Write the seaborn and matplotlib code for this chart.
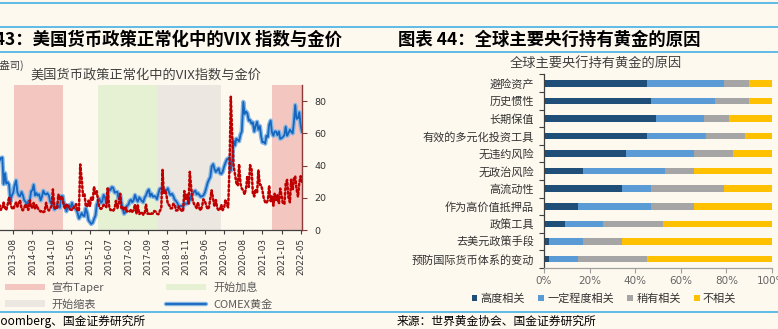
import numpy as np
import pandas as pd
import matplotlib
matplotlib.use("Agg")
import matplotlib.pyplot as plt
import matplotlib.dates as mdates
import matplotlib.patheffects as pe
from matplotlib.patches import Patch
from matplotlib.lines import Line2D
import seaborn as sns

sns.set_theme(style="white")
plt.rcParams['font.family'] = ['Noto Sans CJK SC', 'DejaVu Sans']
plt.rcParams['axes.unicode_minus'] = False

# ---------------- data: VIX and COMEX gold (semi-monthly) ----------------
sample_dates = pd.date_range('2013-01-01', '2022-05-15', freq='SMS')

gold_price = [
    1675, 1685, 1665, 1610, 1575, 1595, 1600, 1380, 1470, 1385, 1395, 1375,
    1235, 1285, 1310, 1370, 1410, 1315, 1285, 1280, 1315, 1290, 1245, 1235,   # 2013
    1205, 1240, 1245, 1320, 1330, 1375, 1285, 1305, 1285, 1295, 1245, 1275,
    1325, 1300, 1295, 1305, 1285, 1235, 1215, 1240, 1170, 1185, 1215, 1195,   # 2014
    1185, 1280, 1280, 1210, 1210, 1155, 1200, 1205, 1180, 1225, 1190, 1180,
    1170, 1145, 1095, 1115, 1140, 1120, 1115, 1180, 1140, 1080, 1065, 1050,   # 2015
    1060, 1090, 1120, 1210, 1235, 1260, 1225, 1235, 1290, 1275, 1215, 1295,
    1340, 1330, 1355, 1350, 1310, 1315, 1315, 1255, 1290, 1225, 1170, 1135,   # 2016
    1150, 1200, 1210, 1240, 1250, 1230, 1250, 1290, 1255, 1235, 1270, 1255,
    1240, 1230, 1270, 1285, 1320, 1335, 1280, 1300, 1275, 1280, 1275, 1255,   # 2017
    1305, 1340, 1345, 1355, 1320, 1315, 1330, 1345, 1305, 1290, 1300, 1280,
    1250, 1240, 1220, 1185, 1200, 1200, 1190, 1225, 1215, 1220, 1225, 1245,   # 2018
    1285, 1295, 1320, 1325, 1295, 1305, 1290, 1275, 1280, 1285, 1310, 1345,
    1390, 1415, 1440, 1525, 1545, 1505, 1480, 1495, 1510, 1470, 1465, 1480,   # 2019
    1525, 1555, 1585, 1590, 1600, 1490, 1595, 1740, 1700, 1755, 1745, 1735,
    1790, 1815, 2060, 1960, 1980, 1965, 1905, 1910, 1880, 1890, 1815, 1860,   # 2020
    1895, 1830, 1860, 1775, 1725, 1730, 1715, 1780, 1770, 1870, 1905, 1810,
    1780, 1815, 1815, 1785, 1815, 1755, 1760, 1770, 1785, 1855, 1780, 1800,   # 2021
    1830, 1815, 1800, 1900, 2035, 1920, 1925, 1975, 1865, 1810,               # 2022
]

vix_index = [
    14.0, 13.6, 12.9, 14.1, 15.4, 12.5, 13.6, 17.0, 13.7, 12.4, 16.3, 20.5,
    16.0, 13.8, 12.9, 15.1, 17.0, 14.5, 16.6, 18.5, 13.1, 12.2, 13.7, 16.0,   # 2013
    13.8, 12.5, 18.4, 14.0, 14.0, 16.8, 13.1, 15.6, 13.4, 12.4, 11.4, 12.0,
    11.1, 11.5, 16.9, 13.2, 12.1, 13.3, 15.0, 25.2, 14.0, 13.3, 13.3, 22.0,   # 2014
    19.2, 20.9, 18.7, 14.8, 13.3, 16.0, 15.1, 13.0, 12.7, 12.4, 13.8, 14.8,
    16.1, 12.1, 12.1, 40.7, 31.4, 21.1, 22.6, 15.1, 14.6, 18.2, 14.7, 20.7,   # 2015
    18.2, 27.0, 22.5, 24.1, 17.7, 14.0, 13.1, 13.6, 15.7, 15.0, 14.2, 25.8,
    14.8, 12.4, 12.4, 11.8, 13.5, 18.1, 13.5, 16.2, 22.5, 13.4, 14.1, 12.2,   # 2016
    14.0, 11.5, 12.0, 11.5, 12.5, 11.3, 12.4, 15.9, 10.1, 15.6, 9.9, 10.4,
    11.2, 9.5, 10.3, 16.0, 10.1, 10.2, 9.5, 10.3, 10.2, 11.8, 11.4, 10.1,     # 2017
    9.8, 11.7, 13.5, 37.3, 22.5, 24.9, 21.1, 16.0, 15.5, 13.4, 13.5, 16.3,
    15.6, 12.1, 12.2, 14.6, 12.9, 12.0, 11.6, 24.2, 19.3, 21.9, 16.4, 36.1,   # 2018
    25.4, 18.6, 16.1, 14.9, 13.6, 17.2, 13.4, 12.1, 14.8, 19.1, 17.9, 15.3,
    12.9, 13.9, 20.0, 24.6, 19.0, 14.6, 18.6, 13.7, 12.3, 12.5, 15.6, 12.3,   # 2019
    13.8, 18.8, 15.5, 14.0, 40.1, 82.7, 57.1, 40.1, 34.2, 29.3, 27.6, 40.8,
    28.6, 25.7, 24.5, 22.1, 26.1, 33.6, 26.7, 40.3, 37.6, 22.7, 20.8, 25.2,   # 2020
    22.8, 37.2, 28.0, 27.9, 24.7, 20.0, 17.3, 16.6, 18.6, 27.6, 17.9, 20.7,
    15.1, 22.5, 18.0, 21.6, 16.4, 25.7, 21.2, 16.3, 16.3, 28.6, 31.1, 20.6,   # 2021
    17.2, 31.2, 24.7, 32.0, 33.3, 25.7, 20.6, 29.2, 33.4, 28.9,               # 2022
]

# policy phases shaded behind the lines
phase_labels = ['宣布Taper', '开始加息', '开始缩表', '宣布Taper']
phase_start = ['2013-08-09', '2016-03-03', '2017-12-19', '2021-06-18']
phase_end = ['2015-02-01', '2017-12-19', '2019-11-24', '2022-05-15']
phase_colors = ['#F3C6C0', '#E6F0D3', '#ECE7E0', '#F3C6C0']

# ---------------- data: reasons central banks hold gold ----------------
reasons = ['避险资产', '历史惯性', '长期保值', '有效的多元化投资工具', '无违约风险',
           '无政治风险', '高流动性', '作为高价值抵押品', '政策工具', '去美元政策手段',
           '预防国际货币体系的变动']
highly_relevant = [45, 47, 49, 45, 36, 17, 34, 15, 9, 2, 2]
somewhat_relevant = [34, 28, 21, 26, 30, 36, 13, 32, 17, 15, 13]
slightly_relevant = [11, 15, 11, 17, 17, 13, 32, 19, 26, 17, 30]
not_relevant = [10, 10, 19, 12, 17, 34, 21, 34, 48, 66, 55]
relevance_levels = ['高度相关', '一定程度相关', '稍有相关', '不相关']
relevance_colors = ['#1F4E79', '#5B9BD5', '#A5A5A5', '#FFC000']

# ---------------- page layout ----------------
BG = '#FEF9EF'
RULE = '#5DBCE6'
W, H = 778, 329
fig = plt.figure(figsize=(W / 100, H / 100), dpi=100, facecolor=BG)
renderer = fig.canvas.get_renderer()


def fx(px):
    return px / W


def fy(py):
    return 1 - py / H


def text_width(s, **kw):
    t = fig.text(0, 0, s, **kw)
    w = t.get_window_extent(renderer).width
    t.remove()
    return w


for yy in (3, 27, 52, 312):
    fig.add_artist(Line2D([0, 1], [fy(yy), fy(yy)], transform=fig.transFigure,
                          color=RULE, lw=1.4))

title_kw = dict(fontsize=12.5, fontweight='bold', fontstyle='italic', color='black')
# left caption runs off the page edge: start it so that half of the "4" is visible
lead = text_width('图表', **title_kw) + 0.5 * text_width('4', **title_kw)
fig.text(fx(-lead), fy(40), '图表43：美国货币政策正常化中的VIX 指数与金价', ha='left',
         va='center', **title_kw)
fig.text(fx(398), fy(40), '图表 44：全球主要央行持有黄金的原因', ha='left',
         va='center', **title_kw)

# ---------------- left: VIX vs gold ----------------
t_a, t_b = pd.Timestamp('2013-08-01'), pd.Timestamp('2022-05-01')
px_a, px_b = 13.3, 300.7
ppd = (px_b - px_a) / (t_b - t_a).days
x0, x1 = pd.Timestamp('2013-01-01'), pd.Timestamp('2022-05-15')
left_px = px_a - (t_a - x0).days * ppd
right_px = px_b + (x1 - t_b).days * ppd
ax = fig.add_axes([fx(left_px), fy(230), fx(right_px - left_px), 145 / H])
ax.set_facecolor(BG)

for lab, s, e, c in zip(phase_labels, phase_start, phase_end, phase_colors):
    ax.axvspan(pd.Timestamp(s), pd.Timestamp(e), color=c, lw=0, zorder=0)

gold_df = pd.DataFrame({'date': sample_dates, 'gold': gold_price})
vix_df = pd.DataFrame({'date': sample_dates, 'vix': vix_index})

gold_fx = [pe.Stroke(linewidth=3.2, foreground='#86B6E4'), pe.Normal()]
sns.lineplot(data=gold_df, x='date', y='gold', ax=ax, color='#1666BE', lw=1.3,
             estimator=None, zorder=3, path_effects=gold_fx)
ax.set_ylim(1000, 2200)
ax.set_xlim(x0, x1)

ax2 = ax.twinx()
sns.lineplot(data=vix_df, x='date', y='vix', ax=ax2, color='#C00000', lw=1.8,
             linestyle=(0, (0.8, 1.0)), dash_capstyle='round', estimator=None, zorder=4)
ax2.set_ylim(0, 90)
ax2.set_yticks([0, 20, 40, 60, 80])
ax2.set_xlim(x0, x1)

for a in (ax, ax2):
    a.set_xlabel('')
    a.set_ylabel('')
    for sp in a.spines.values():
        sp.set_visible(False)
ax.spines['bottom'].set_visible(True)
ax.spines['bottom'].set_color('#404040')
ax.spines['bottom'].set_linewidth(0.9)
ax2.spines['right'].set_visible(True)
ax2.spines['right'].set_color('#8B3A3A')
ax2.spines['right'].set_linewidth(1.0)

xt = pd.date_range('2013-01-01', '2022-05-15', freq='7MS')
ax.set_xticks(xt)
ax.xaxis.set_major_formatter(mdates.DateFormatter('%Y-%m'))
ax.tick_params(axis='x', which='major', direction='out', length=3, width=0.8,
               color='#404040', labelsize=6.4, labelcolor='#333333', pad=2.5,
               labelrotation=90, bottom=True)
for lab in ax.get_xticklabels():
    lab.set_fontfamily('DejaVu Sans')
ax.tick_params(axis='y', left=False, labelleft=False)
ax2.tick_params(axis='y', direction='out', length=3.5, width=0.8, color='#8B3A3A',
                labelsize=6.8, labelcolor='#333333', pad=5.3, right=True)
for lab in ax2.get_yticklabels():
    lab.set_fontfamily('DejaVu Sans')

fig.text(fx(24), fy(65), '(美元/盎司)', ha='right', va='center', fontsize=7.5,
         color='#404040')
fig.text(fx(145.5), fy(75), '美国货币政策正常化中的VIX指数与金价', ha='center',
         va='center', fontsize=9.5, color='#404040')

gold_handle = Line2D([], [], color='#1666BE', lw=1.3, path_effects=gold_fx)
left_handles = [Patch(color=phase_colors[0], lw=0), Patch(color=phase_colors[2], lw=0),
                Patch(color=phase_colors[1], lw=0), gold_handle]
left_labels = ['宣布Taper', '开始缩表', '开始加息', 'COMEX黄金']
fig.legend(left_handles, left_labels, ncol=2, loc='upper left',
           bbox_to_anchor=(fx(5), fy(281.5)), frameon=False, fontsize=8,
           handlelength=3.6, handleheight=0.55, handletextpad=0.6,
           columnspacing=5.6, labelspacing=0.55, borderpad=0, borderaxespad=0,
           labelcolor='#595959')

fig.text(fx(146), fy(321), '来源：Bloomberg、国金证券研究所', ha='right', va='center',
         fontsize=8.5, color='black')

# ---------------- right: stacked bars ----------------
axb = fig.add_axes([fx(544), fy(267.8), fx(772 - 544), 193.3 / H])
axb.set_facecolor(BG)
bar_df = pd.DataFrame({'reason': reasons, relevance_levels[0]: highly_relevant,
                       relevance_levels[1]: somewhat_relevant,
                       relevance_levels[2]: slightly_relevant,
                       relevance_levels[3]: not_relevant})
cum = bar_df[relevance_levels].cumsum(axis=1)
for lvl, col in zip(relevance_levels[::-1], relevance_colors[::-1]):
    sns.barplot(x=cum[lvl], y=bar_df['reason'], order=reasons, orient='h',
                color=col, saturation=1, width=0.38, errorbar=None, ax=axb, lw=0)

axb.set_xlim(0, 100)
axb.set_ylim(len(reasons) - 0.5, -0.5)
axb.set_xlabel('')
axb.set_ylabel('')
axb.set_xticks([0, 20, 40, 60, 80, 100])
axb.set_xticklabels([f'{v}%' for v in (0, 20, 40, 60, 80, 100)])
for lab in axb.get_xticklabels():
    lab.set_fontfamily('DejaVu Sans')
axb.set_yticks(np.arange(len(reasons) + 1) - 0.5, minor=True)
axb.tick_params(axis='y', which='major', length=0, pad=7.2, labelsize=8,
                labelcolor='#333333')
axb.tick_params(axis='y', which='minor', direction='out', length=3.5, width=0.8,
                color='#404040', left=True)
axb.tick_params(axis='x', which='major', direction='out', length=3.5, width=0.8,
                color='#A0A0A0', labelsize=7.5, labelcolor='#666666', pad=2.5,
                bottom=True)
for side in ('top', 'right'):
    axb.spines[side].set_visible(False)
axb.spines['left'].set_color('#404040')
axb.spines['left'].set_linewidth(0.9)
axb.spines['bottom'].set_color('#A0A0A0')
axb.spines['bottom'].set_linewidth(0.9)

fig.text(fx(595.5), fy(64), '全球主要央行持有黄金的原因', ha='center', va='center',
         fontsize=9.5, color='#404040')

bar_handles = [Patch(color=c, lw=0) for c in relevance_colors]
fig.legend(bar_handles, relevance_levels, ncol=4, loc='center',
           bbox_to_anchor=(fx(604), fy(299)), frameon=False, fontsize=8,
           handlelength=0.5, handleheight=0.5, handletextpad=0.3,
           columnspacing=1.2, borderpad=0, borderaxespad=0, labelcolor='#333333')

fig.text(fx(397), fy(321.5), '来源：世界黄金协会、国金证券研究所', ha='left', va='center',
         fontsize=8.5, color='black')

fig.savefig('out.png', dpi=100, facecolor=BG)
